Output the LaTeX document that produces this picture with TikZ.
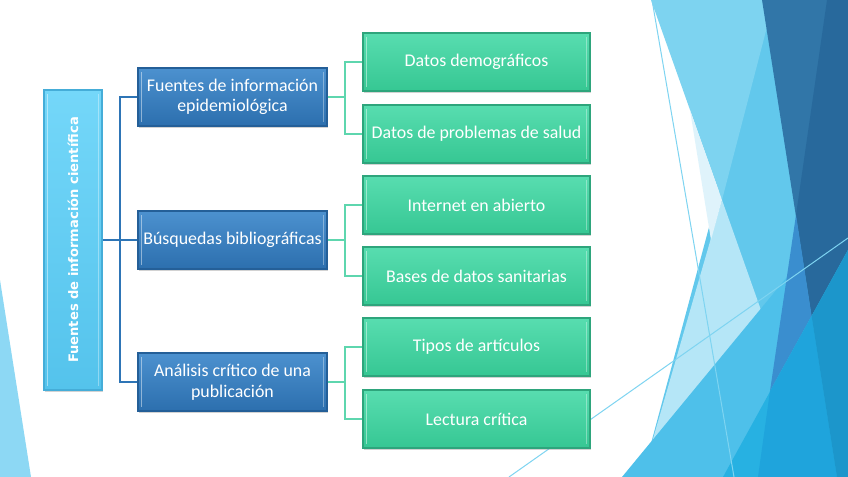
\documentclass[tikz,border=0pt]{standalone}
\usepackage{fontspec}
\setmainfont{Carlito}
\newfontfamily\rootfont{DejaVu Sans}
\usepackage{tikz}
\usetikzlibrary{shadows}

\definecolor{rootTop}{HTML}{74D7F9}
\definecolor{rootBot}{HTML}{54C3EC}
\definecolor{rootLine}{HTML}{45ADD8}
\definecolor{secTop}{HTML}{4C91CF}
\definecolor{secBot}{HTML}{2C6FAE}
\definecolor{secLine}{HTML}{245F98}
\definecolor{subTop}{HTML}{58DDB0}
\definecolor{subBot}{HTML}{36C793}
\definecolor{subLine}{HTML}{2EA57C}
\definecolor{linkBlue}{HTML}{2E75B6}
\definecolor{linkGreen}{HTML}{5ED6AE}
% background facets
\definecolor{facetSliver}{HTML}{8DD8F4}
\definecolor{facetMid}{HTML}{62C8EC}
\definecolor{facetPale}{HTML}{B5E6F7}
\definecolor{facetLight}{HTML}{7DD3F0}
\definecolor{facetWhite}{HTML}{DFF3FB}
\definecolor{facetLow}{HTML}{4EC0EA}
\definecolor{facetDark}{HTML}{3176A8}
\definecolor{facetDarker}{HTML}{28699C}
\definecolor{facetSteel}{HTML}{3A8ECF}
\definecolor{facetCyan}{HTML}{27B1E2}
\definecolor{facetDeep}{HTML}{1FA4DC}
\definecolor{facetEdge}{HTML}{1C96CB}
\definecolor{facetLine}{HTML}{7ED4F1}

\tikzset{
  bevel/.style={path picture={
      \draw[white,opacity=0.45,line width=1.2pt]
        ([xshift=2.5pt,yshift=-3pt]path picture bounding box.north west) --
        ([xshift=2.5pt,yshift=3pt]path picture bounding box.south west);
      \draw[white,opacity=0.35,line width=1.2pt]
        ([xshift=-2.5pt,yshift=-3pt]path picture bounding box.north east) --
        ([xshift=-2.5pt,yshift=3pt]path picture bounding box.south east);}},
  rootbox/.style={draw=rootLine, line width=0.8pt, top color=rootTop, bottom color=rootBot,
      minimum width=43.5pt, minimum height=225pt, inner sep=0pt, text=white, bevel,
      drop shadow={shadow xshift=0.6pt, shadow yshift=-1.5pt, opacity=0.35}},
  secbox/.style={draw=secLine, line width=0.8pt, top color=secTop, bottom color=secBot,
      minimum width=141.75pt, minimum height=43.5pt, inner sep=0.5pt, align=center, text=white,
      font=\fontsize{13.4}{15.5}\selectfont, bevel,
      drop shadow={shadow xshift=0.6pt, shadow yshift=-1.5pt, opacity=0.35}},
  subbox/.style={draw=subLine, line width=0.8pt, top color=subTop, bottom color=subBot,
      minimum width=170.25pt, minimum height=43.5pt, inner sep=0.5pt, align=center, text=white,
      font=\fontsize{13.4}{15.5}\selectfont, bevel,
      drop shadow={shadow xshift=0.6pt, shadow yshift=-1.5pt, opacity=0.35}},
  bluelink/.style={draw=linkBlue, line width=1pt},
  greenlink/.style={draw=linkGreen, line width=1.2pt}
}

\begin{document}
\begin{tikzpicture}[x=0.75pt, y=-0.75pt]
  \useasboundingbox (0,0) rectangle (848,477);
  % background facets
  \fill[white] (0,0) rectangle (848,477);
  \fill[facetSliver] (0,280) -- (31,477) -- (0,477) -- cycle;
  \fill[facetMid] (770,0) -- (837,477) -- (642,477) -- cycle;
  \fill[facetPale] (722,200) -- (820,477) -- (642,477) -- cycle;
  \fill[facetLight] (651,0) -- (774,0) -- (722,200) -- cycle;
  \fill[facetWhite] (690,110) -- (722,200) -- (711,240) -- cycle;
  \fill[facetLow] (622,477) -- (848,203) -- (848,477) -- cycle;
  \fill[facetDark] (762,0) -- (848,0) -- (848,250) -- (811.6,316) -- cycle;
  \fill[facetDarker] (827,0) -- (848,0) -- (848,250) -- (811.6,316) -- (796,215) -- cycle;
  \fill[facetSteel] (796,215) -- (811.6,316) -- (770,391) -- cycle;
  \fill[facetCyan] (848,250) -- (848,477) -- (723,477) -- cycle;
  \fill[facetDeep] (770,391) -- (811.6,316) -- (837,477) -- (758,477) -- cycle;
  \fill[facetEdge] (811.6,316) -- (848,250) -- (848,477) -- (837,477) -- cycle;
  \draw[facetLine, line width=0.75pt] (652,0) -- (734,477);
  \draw[facetLine, line width=0.75pt] (509,477) -- (848,238);

  % root
  \node[rootbox] (root) at (73,240) {\rotatebox{90}{\rootfont\bfseries\fontsize{9.8}{11}\selectfont Fuentes de información científica}};

  % first level
  \node[secbox] (fuentes) at (232.5,97) {Fuentes de información\\epidemiológica};
  \node[secbox] (busq) at (232.5,240) {Búsquedas bibliográficas};
  \node[secbox] (analisis) at (232.5,382) {Análisis crítico de una\\publicación};

  % second level
  \node[subbox] (demo) at (476.5,62) {Datos demográficos};
  \node[subbox] (salud) at (476.5,134) {Datos de problemas de salud};
  \node[subbox] (internet) at (476.5,205) {Internet en abierto};
  \node[subbox] (bases) at (476.5,276) {Bases de datos sanitarias};
  \node[subbox] (tipos) at (476.5,347) {Tipos de artículos};
  \node[subbox] (lectura) at (476.5,419) {Lectura crítica};

  % connectors
  \coordinate (rj) at (120,240);
  \draw[bluelink] (root.east) -- (rj) |- (fuentes.west);
  \draw[bluelink] (rj) -- (busq.west);
  \draw[bluelink] (rj) |- (analisis.west);

  \coordinate (j1) at (345,97);
  \coordinate (j2) at (345,240);
  \coordinate (j3) at (345,382);
  \draw[greenlink] (fuentes.east) -- (j1) |- (demo.west);
  \draw[greenlink] (j1) |- (salud.west);
  \draw[greenlink] (busq.east) -- (j2) |- (internet.west);
  \draw[greenlink] (j2) |- (bases.west);
  \draw[greenlink] (analisis.east) -- (j3) |- (tipos.west);
  \draw[greenlink] (j3) |- (lectura.west);
\end{tikzpicture}
\end{document}
